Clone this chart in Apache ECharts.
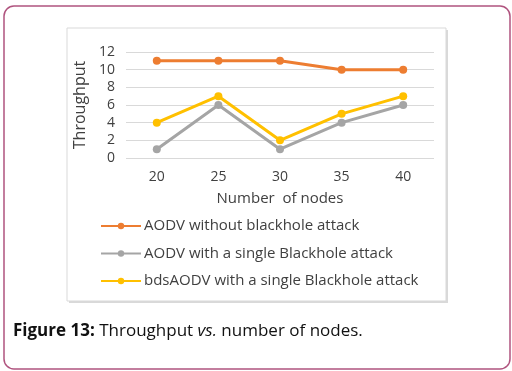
<!DOCTYPE html>
<html><head><meta charset="utf-8">
<script src="https://cdn.jsdelivr.net/npm/echarts@6/dist/echarts.min.js"></script>
<style>html,body{margin:0;padding:0;background:#fff}#c{width:512px;height:371px}</style>
</head><body><div id="c"></div>
<script>
const categories = ['20','25','30','35','40'];
const aodvNoAttack = [11, 11, 11, 10, 10];
const aodvSingle = [1, 6, 1, 4, 6];
const bdsAodv = [4, 7, 2, 5, 7];
const seriesNames = ['AODV without blackhole attack','AODV with a single Blackhole attack','bdsAODV with a single Blackhole attack'];
const colors = ['#ED7D31','#A5A5A5','#FFC000'];

const chart = echarts.init(document.getElementById('c'), null, {renderer:'canvas'});
const font = "'Open Sans', sans-serif";
function mk(name, data, color){
  return {name, type:'line', data, color, symbol:'circle', symbolSize:8,
    lineStyle:{width:3,color}, itemStyle:{color}, z: 3};
}
chart.setOption({
  animation:false,
  graphic:[
    {type:'rect', shape:{x:4,y:6,width:506,height:363,r:10}, style:{fill:'#fff',stroke:'#B0547F',lineWidth:1.5}, z:-10},
    {type:'rect', shape:{x:69,y:30,width:379,height:273}, style:{fill:'#d9d9d9'}, z:-9},
    {type:'rect', shape:{x:67,y:28,width:379,height:273}, style:{fill:'#fff',stroke:'#d9d9d9',lineWidth:1}, z:-8},
    {type:'text', left:13, top:323, style:{text:'{b|Figure 13:} Throughput {i|vs.} number of nodes.', fill:'#111', font:"17px 'Open Sans', sans-serif",
      rich:{b:{fontWeight:'bold',fontSize:17,fontFamily:"'Open Sans', sans-serif",fill:'#111'}, i:{fontStyle:'italic',fontSize:17,fontFamily:"'Open Sans', sans-serif",fill:'#111'}}}}
  ],
  grid:{left:126, right:78, top:52, bottom:213, containLabel:false},
  xAxis:{type:'category', data:categories, boundaryGap:true,
    axisLine:{show:false}, axisTick:{show:false},
    axisLabel:{color:'#404040', fontSize:14, fontFamily:font, margin:12},
    name:'Number  of nodes', nameLocation:'middle', nameGap:33,
    nameTextStyle:{color:'#404040', fontSize:15, fontFamily:font}},
  yAxis:{type:'value', min:0, max:12, interval:2,
    axisLine:{show:false}, axisTick:{show:false},
    splitLine:{lineStyle:{color:'#d9d9d9', width:1}},
    axisLabel:{color:'#404040', fontSize:14, fontFamily:font, margin:11},
    name:'Throughput', nameLocation:'middle', nameGap:38, nameRotate:90,
    nameTextStyle:{color:'#404040', fontSize:16, fontFamily:font}},
  legend:{orient:'vertical', left:95, top:213, itemWidth:40, itemHeight:8, itemGap:11.5,
    textStyle:{color:'#404040', fontSize:15, lineHeight:16, fontFamily:font, padding:[0,0,0,-2]},
    data:seriesNames},
  series:[mk(seriesNames[0], aodvNoAttack, colors[0]), mk(seriesNames[1], aodvSingle, colors[1]), mk(seriesNames[2], bdsAodv, colors[2])]
});
</script></body></html>
